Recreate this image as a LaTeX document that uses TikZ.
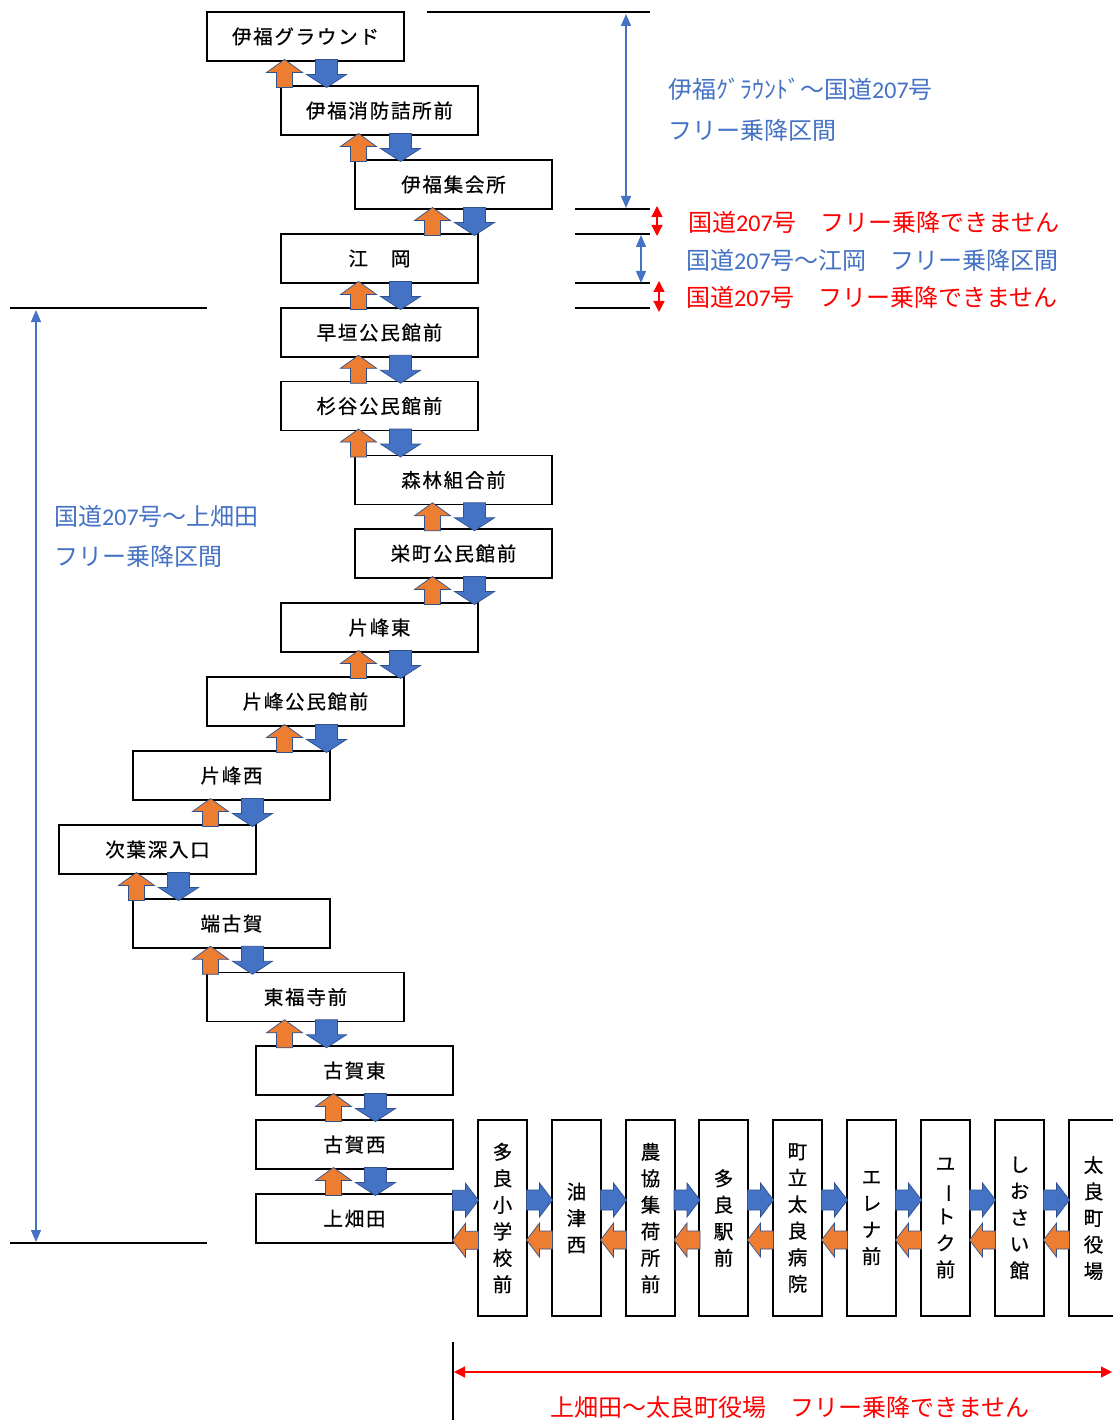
\documentclass[tikz,border=0pt]{standalone}
\usepackage{fontspec}
\usetikzlibrary{arrows.meta,calc}
\newfontfamily\jpfont[LetterSpace=9,FakeBold=0.6]{Noto Sans CJK JP}
\newfontfamily\vfont[FakeBold=0.6]{Noto Sans CJK JP}
\newfontfamily\annfont{Noto Sans CJK JP}
\newfontfamily\calfont{Carlito}
\definecolor{annblue}{HTML}{4472C4}
\definecolor{arrblue}{HTML}{4472C4}
\definecolor{arrorange}{HTML}{ED7D31}
\definecolor{arredge}{HTML}{2F528F}
\newcommand{\vbar}{\rotatebox[origin=c]{-90}{ー}}
\tikzset{
  stbox/.style={draw=black, line width=1.8pt, fill=white, minimum width=197pt, minimum height=49pt, inner sep=0pt, font=\jpfont\fontsize{19.5}{23}\selectfont},
  vbox/.style={draw=black, line width=1.8pt, fill=white, minimum width=49pt, minimum height=196pt, inner sep=0pt, align=center, font=\vfont\fontsize{19.5}{26.5}\selectfont},
  guide/.style={line width=1.8pt, draw=black},
  bluedim/.style={draw=annblue, line width=1.3pt, {Triangle[length=12pt,width=10pt]}-{Triangle[length=12pt,width=10pt]}},
  reddim/.style={draw=red, line width=1.3pt, {Triangle[length=11pt,width=11pt]}-{Triangle[length=11pt,width=11pt]}},
  anntxt/.style={font=\annfont\fontsize{24}{28}\selectfont, anchor=west, inner sep=0pt},
  bluetxt/.style={anntxt, text=annblue},
  redtxt/.style={anntxt, text=red},
  uparr/.pic={\filldraw[fill=arrorange, draw=arredge, line width=0.7pt] (0,-14) -- (18,-1) -- (8,-1) -- (8,14) -- (-8,14) -- (-8,-1) -- (-18,-1) -- cycle;},
  dnarr/.pic={\filldraw[fill=arrblue, draw=arredge, line width=0.7pt] (0,14) -- (20,1) -- (11,1) -- (11,-14) -- (-11,-14) -- (-11,1) -- (-20,1) -- cycle;},
  rtarr/.pic={\filldraw[fill=arrblue, draw=arredge, line width=0.7pt] (13,0) -- (0,-17) -- (0,-10) -- (-13,-10) -- (-13,10) -- (0,10) -- (0,17) -- cycle;},
  ltarr/.pic={\filldraw[fill=arrorange, draw=arredge, line width=0.7pt] (-13,0) -- (0,-17) -- (0,-9) -- (13,-9) -- (13,9) -- (0,9) -- (0,17) -- cycle;},
}
\begin{document}
\begin{tikzpicture}[x=1pt,y=-1pt]
\useasboundingbox[fill=white] (0,0) rectangle (1112,1420);

% main column of stops
\node[stbox] (b1)  at (305.5,36.5)   {伊福グラウンド};
\node[stbox] (b2)  at (379.5,110.5)  {伊福消防詰所前};
\node[stbox] (b3)  at (453.5,184.5)  {伊福集会所};
\node[stbox] (b4)  at (379.5,258.5)  {江　岡};
\node[stbox] (b5)  at (379.5,332.5)  {早垣公民館前};
\node[stbox] (b6)  at (379.5,406)    {杉谷公民館前};
\node[stbox] (b7)  at (453.5,480)    {森林組合前};
\node[stbox] (b8)  at (453.5,553.5)  {栄町公民館前};
\node[stbox] (b9)  at (379.5,627.5)  {片峰東};
\node[stbox] (b10) at (305.5,701.5)  {片峰公民館前};
\node[stbox] (b11) at (231.5,775.5)  {片峰西};
\node[stbox] (b12) at (157.5,849.5)  {次葉深入口};
\node[stbox] (b13) at (231.5,923.5)  {端古賀};
\node[stbox] (b14) at (305.5,997)    {東福寺前};
\node[stbox] (b15) at (354.5,1070.5) {古賀東};
\node[stbox] (b16) at (354.5,1144.5) {古賀西};
\node[stbox] (b17) at (354.5,1218.5) {上畑田};

% horizontal row of stops
\node[vbox] (v1) at (502.5,1218) {多\\良\\小\\学\\校\\前};
\node[vbox] (v2) at (576.5,1218) {油\\津\\西};
\node[vbox] (v3) at (650.5,1218) {農\\協\\集\\荷\\所\\前};
\node[vbox] (v4) at (723.5,1218) {多\\良\\駅\\前};
\node[vbox] (v5) at (797.5,1218) {町\\立\\太\\良\\病\\院};
\node[vbox] (v6) at (871.5,1218) {エ\\レ\\ナ\\前};
\node[vbox] (v7) at (945.5,1218) {ユ\\\vbar\\ト\\ク\\前};
\node[vbox] (v8) at (1019.5,1218) {し\\お\\さ\\い\\館};
\node[vbox] (v9) at (1093.5,1218) {太\\良\\町\\役\\場};

% up / down block arrows
\foreach \i in {1,...,16}{
  \pgfmathtruncatemacro{\j}{\i+1}
  \pic at ($(b\i.south)!0.5!(b\i.south|-b\j.north)+(-21,0)$) {uparr};
  \pic at ($(b\i.south)!0.5!(b\i.south|-b\j.north)+(21,0)$) {dnarr};
}
% right / left block arrows
\foreach \l/\r in {b17/v1,v1/v2,v2/v3,v3/v4,v4/v5,v5/v6,v6/v7,v7/v8,v8/v9}{
  \pic at ($(\l.east)!0.5!(\r.west)+(0,-18)$) {rtarr};
  \pic at ($(\l.east)!0.5!(\r.west)+(0,22)$) {ltarr};
}

% right-hand guides
\coordinate (t0a) at (427,12);  \coordinate (t0b) at (650,12);
\coordinate (t1a) at (575,209); \coordinate (t1b) at (650,209);
\coordinate (t2a) at (575,234); \coordinate (t2b) at (650,234);
\coordinate (t3a) at (575,283); \coordinate (t3b) at (650,283);
\coordinate (t4a) at (575,308); \coordinate (t4b) at (650,308);
\draw[guide] (t0a) -- (t0b);
\draw[guide] (t1a) -- (t1b);
\draw[guide] (t2a) -- (t2b);
\draw[guide] (t3a) -- (t3b);
\draw[guide] (t4a) -- (t4b);
\coordinate (d1a) at (626,14);  \coordinate (d1b) at (626,208);
\coordinate (d2a) at (657,206); \coordinate (d2b) at (657,236);
\coordinate (d3a) at (641,235); \coordinate (d3b) at (641,283);
\coordinate (d4a) at (659,281); \coordinate (d4b) at (659,312);
\draw[bluedim] (d1a) -- (d1b);
\draw[reddim]  (d2a) -- (d2b);
\draw[bluedim] (d3a) -- (d3b);
\draw[reddim]  (d4a) -- (d4b);
\node[bluetxt] (n1) at (668,89)  {伊福ｸﾞﾗｳﾝﾄﾞ～国道{\calfont 207}号};
\node[bluetxt] (n2) at (668,130) {フリー乗降区間};
\node[redtxt]  (n3) at (688,222) {国道{\calfont 207}号　フリー乗降できません};
\node[bluetxt] (n4) at (686,260) {国道{\calfont 207}号～江岡　フリー乗降区間};
\node[redtxt]  (n5) at (686,297) {国道{\calfont 207}号　フリー乗降できません};

% left-hand guides
\coordinate (l1a) at (10,308);  \coordinate (l1b) at (207,308);
\coordinate (l2a) at (10,1243); \coordinate (l2b) at (207,1243);
\draw[guide] (l1a) -- (l1b);
\draw[guide] (l2a) -- (l2b);
\coordinate (ld1) at (36,310); \coordinate (ld2) at (36,1242);
\draw[bluedim] (ld1) -- (ld2);
\node[bluetxt] (n6) at (54,516) {国道{\calfont 207}号～上畑田};
\node[bluetxt] (n7) at (54,556) {フリー乗降区間};

% bottom guide
\coordinate (g1) at (453,1342); \coordinate (g2) at (453,1420);
\draw[line width=1.8pt] (g1) -- (g2);
\coordinate (bd1) at (454,1372); \coordinate (bd2) at (1112,1372);
\draw[reddim] (bd1) -- (bd2);
\node[text=red, font=\annfont\fontsize{24}{28}\selectfont, inner sep=0pt] (n8) at (790,1407) {上畑田～太良町役場　フリー乗降できません};
\end{tikzpicture}
\end{document}
